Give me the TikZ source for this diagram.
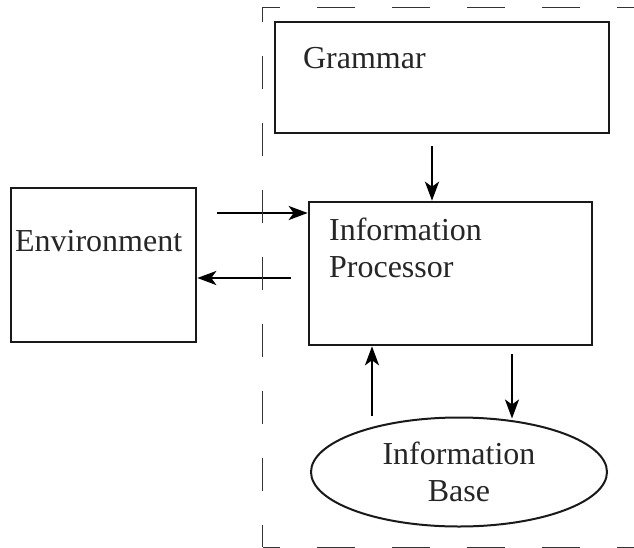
\documentclass[tikz,border=0pt]{standalone}
\usepackage{fontspec}
\setmainfont{Liberation Serif}
\usepackage{tikz}
\usetikzlibrary{positioning, calc, arrows.meta, shapes.geometric}

\begin{document}
\begin{tikzpicture}[x=0.5pt, y=-0.5pt,
					BlockNode/.style={rectangle, draw=black!90, line width=1.3pt, inner sep=0pt},
					BaseNode/.style={ellipse, draw=black!90, line width=1pt, inner sep=0pt, minimum width=148pt, minimum height=54.5pt, align=center},
					LabelText/.style={inner sep=0pt, font=\fontsize{16pt}{18.5pt}\selectfont, text=black!85},
					FlowArrow/.style={line width=1.2pt, -{Stealth[length=9.5pt, width=7pt, inset=2.5pt]}},
					BorderLine/.style={line width=0.5pt, black!80}]

				\useasboundingbox (0,0) rectangle (634,548);

				% boxes
				\node[BlockNode, minimum width=167pt, minimum height=55.5pt] (Grammar) at (442,77.5) {};
				\node[BlockNode, minimum width=141.5pt, minimum height=71.5pt] (Processor) at (450.5,273.5) {};
				\node[BlockNode, minimum width=92.5pt, minimum height=77pt] (Environment) at (103.5,265) {};
				\node[BaseNode, LabelText] (Base) at (459,472) {Information\\Base};

				\node[LabelText, anchor=base west] (GrammarText) at ($(Grammar.north west)+(29,48)$) {Grammar};
				\node[LabelText, anchor=base west, align=left] (ProcessorText) at ($(Processor.north west)+(21,77)$) {Information\\Processor};
				\node[LabelText, anchor=base west] (EnvironmentText) at ($(Environment.north west)+(5,65)$) {Environment};

				% arrows
				\draw[FlowArrow] ($(Grammar.south)+(-10,12)$) coordinate (GramOut) -- (GramOut |- Processor.north);
				\draw[FlowArrow] ($(Environment.east)+(20,-52)$) coordinate (EnvOut) -- (EnvOut -| Processor.west);
				\draw[FlowArrow] ($(Environment.east -| Processor.west)+(-17,13)$) coordinate (ProcOut) -- (ProcOut -| Environment.east);
				\draw[FlowArrow] ($(Base.north)+(-87,-1)$) coordinate (BaseOut) -- (BaseOut |- Processor.south);
				\draw[FlowArrow] ($(Processor.south)+(61.5,8)$) -- ($(Base.north)+(53,2)$);

				% dashed frame
				\draw[BorderLine, dash pattern=on 19pt off 18.5pt, dash phase=10.5pt] (263,7) -- (634,7);
				\draw[BorderLine, dash pattern=on 16.5pt off 17pt, dash phase=9pt] (263,7) -- (263,547);
				\draw[BorderLine, dash pattern=on 19pt off 18.5pt, dash phase=10.5pt] (263,547) -- (634,547);
			\end{tikzpicture}
\end{document}
